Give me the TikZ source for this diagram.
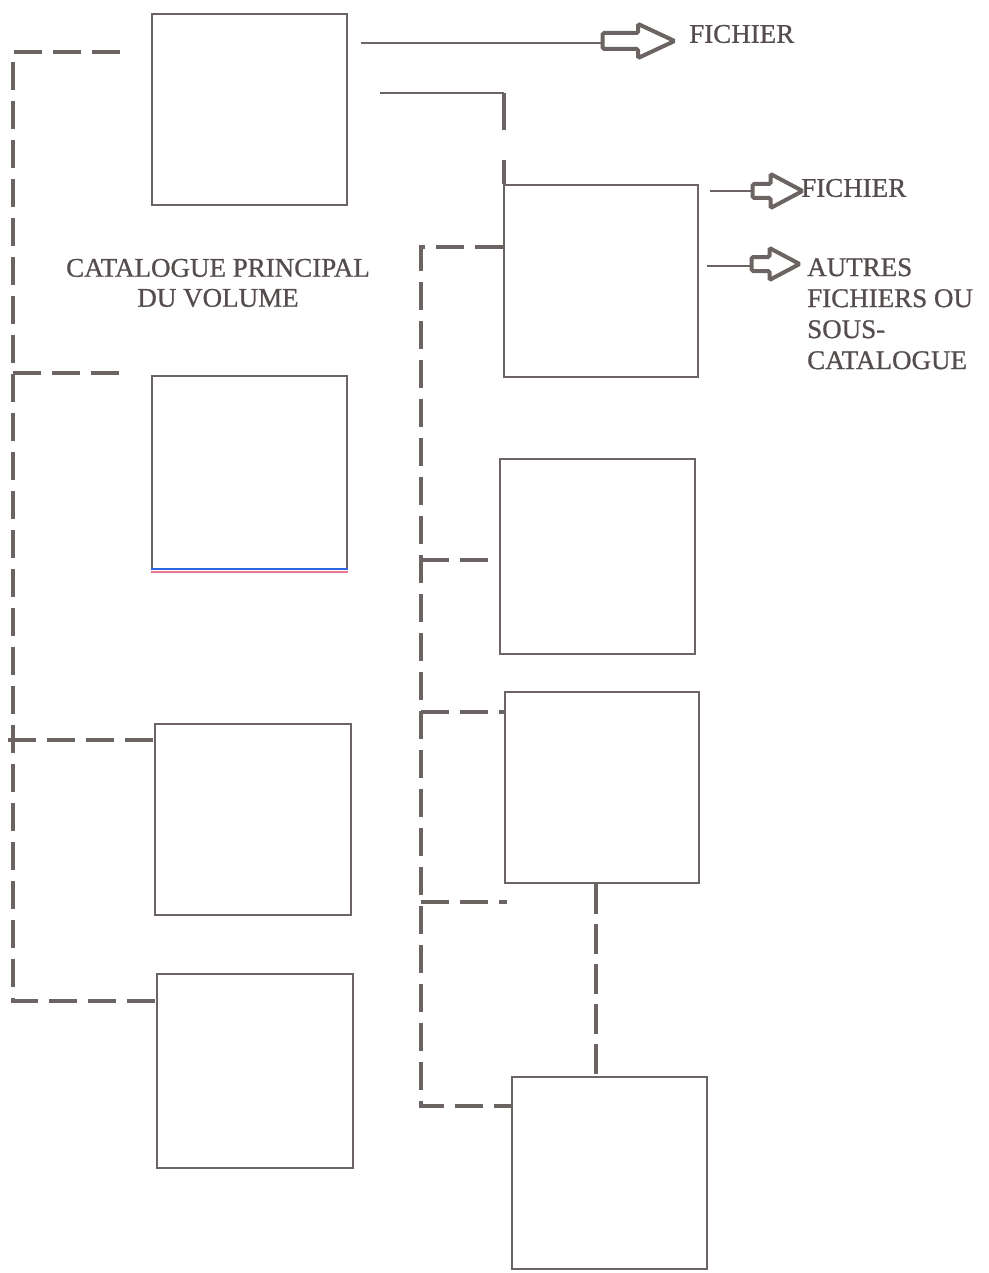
\documentclass[tikz,border=0pt]{standalone}
\usepackage{fontspec}
\newfontfamily\labfont[FakeBold=0.8]{Liberation Serif}
\usetikzlibrary{shapes.arrows,calc}
\definecolor{ink}{RGB}{108,99,99}
\definecolor{txt}{RGB}{85,76,76}
\definecolor{scanblue}{RGB}{50,100,230}
\definecolor{scanred}{RGB}{240,120,140}
\begin{document}
\begin{tikzpicture}[x=1pt,y=-1pt,
  box/.style={draw=ink, line width=1.6pt, inner sep=0pt, anchor=north west, minimum width=195pt, minimum height=192pt},
  dl/.style={draw=ink, line width=3.6pt, dash pattern=on 28pt off 11pt},
  conn/.style={draw=ink, line width=1.4pt},
  harrow/.style={single arrow, draw=ink, fill=white, line width=4pt, inner xsep=0pt, inner ysep=6pt,
     single arrow head extend=9pt, single arrow tip angle=50, rounded corners=1.5pt},
  lab/.style={text=txt, font=\labfont\fontsize{27}{31}\selectfont, inner sep=0pt}
]
\useasboundingbox (0,0) rectangle (988,1273);
% boxes
\node[box, minimum width=195pt, minimum height=191pt] (B1) at (151,13) {};
\node[box, minimum width=195pt, minimum height=193pt] (B2) at (151,375) {};
\node[box, minimum width=196pt, minimum height=191pt] (B3) at (154,723) {};
\node[box, minimum width=196pt, minimum height=194pt] (B4) at (156,973) {};
\node[box, minimum width=194pt, minimum height=192pt] (R1) at (503,184) {};
\node[box, minimum width=195pt, minimum height=195pt] (R2) at (499,458) {};
\node[box, minimum width=194pt, minimum height=191pt] (R3) at (504,691) {};
\node[box, minimum width=195pt, minimum height=192pt] (R4) at (511,1076) {};
% scan artifact lines on B2
\draw[scanblue, line width=1.8pt] ($(B2.south west)+(0,-0.5)$) -- ($(B2.south east)+(0,-0.5)$);
\draw[scanred, line width=1.4pt] ($(B2.south west)+(0,2.5)$) -- ($(B2.south east)+(0,2.5)$);
% left dashed tree
\coordinate (lt) at (120,52);
\coordinate (lc) at (13,52);
\coordinate (lb) at (13,1001);
\draw[dl] (lt) -- (lc) -- (lb) -- (B4.west |- lb);
\coordinate (l2a) at (13,373);
\coordinate (l2b) at (123,373);
\draw[dl] (l2a) -- (l2b);
\coordinate (l3a) at (8,740);
\draw[dl] (l3a) -- (B3.west |- l3a);
% right dashed tree
\coordinate (rc) at (421,247);
\coordinate (rb) at (421,1106);
\draw[dl] (R1.west |- rc) -- (rc) -- (rb) -- (R4.west |- rb);
\coordinate (r2) at (421,560);
\draw[dl] (r2) -- (R2.west |- r2);
\coordinate (r3) at (421,712);
\draw[dl] (r3) -- (R3.west |- r3);
\coordinate (r5) at (421,902);
\coordinate (r5e) at (507,902);
\draw[dl] (r5) -- (r5e);
\coordinate (vx) at (596,0);
\draw[dl, dash pattern=on 30pt off 10pt] (R3.south -| vx) -- (R4.north -| vx);
% top connectors
\node[harrow, minimum height=72pt] (A1) at (630,41) {};
\coordinate (t1) at (361,43);
\draw[conn] (t1) -- (A1.west |- t1);
\coordinate (t2) at (380,93);
\coordinate (t2c) at (504,93);
\draw[conn] (t2) -- (t2c);
\draw[draw=ink, line width=3.2pt, dash pattern=on 37pt off 30pt] (t2c) -- (t2c |- R1.north);
% R1 arrows
\node[harrow, minimum height=50pt, inner ysep=5pt, single arrow head extend=10pt, single arrow tip angle=56] (A2) at (771,191) {};
\coordinate (f1) at (710,191);
\draw[conn] (f1) -- (A2.west);
\node[harrow, minimum height=48pt, inner ysep=5pt, single arrow head extend=9pt, single arrow tip angle=56] (A3) at (769,264) {};
\coordinate (f2) at (707,266);
\draw[conn] (f2) -- (A3.west |- f2);
% labels
\node[lab, anchor=west] (F1) at (689,34) {FICHIER};
\node[lab, anchor=west] (F2) at (801,188) {FICHIER};
\node[lab, anchor=north west, align=left] (F3) at (807,258) {AUTRES\\FICHIERS OU\\SOUS-\\CATALOGUE};
\node[lab, align=center, font=\labfont\fontsize{27}{30}\selectfont] (CAT) at (218,283) {CATALOGUE PRINCIPAL\\DU VOLUME};
\end{tikzpicture}
\end{document}
